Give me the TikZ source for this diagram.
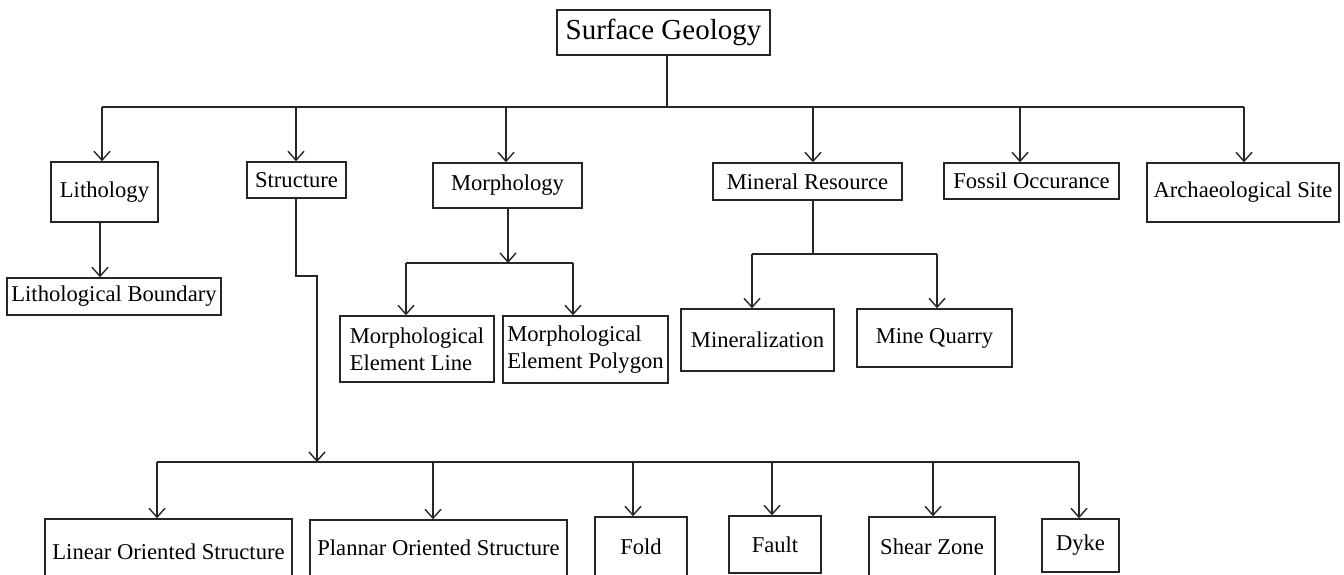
\documentclass[tikz,border=0pt]{standalone}
\usepackage{fontspec}
\setmainfont{Liberation Serif}
\usetikzlibrary{arrows.meta}
\begin{document}
\begin{tikzpicture}[x=1pt,y=-1pt,
  box/.style={draw=black!85, line width=1.4pt, inner sep=0pt,
    font=\fontsize{22.6}{27}\selectfont, align=center},
  link/.style={draw=black!85, line width=1.4pt},
  arr/.style={link, -{Straight Barb[length=9pt,width=16pt]}}]
\useasboundingbox (0,0) rectangle (1344,575);
\clip (0,0) rectangle (1344,575);

% root
\node[box, minimum width=213pt, minimum height=45pt, font=\fontsize{29}{34}\selectfont]
  (root) at (663.5,32.5) {Surface Geology};

% first level
\node[box, minimum width=107pt, minimum height=60pt] (litho)  at (104.5,192)   {Lithology};
\node[box, minimum width=99pt,  minimum height=36pt] (struct) at (296.5,180)   {Structure};
\node[box, minimum width=149pt, minimum height=45pt] (morph)  at (507.5,185.5) {Morphology};
\node[box, minimum width=189pt, minimum height=37pt] (miner)  at (807.5,181.5) {Mineral Resource};
\node[box, minimum width=175pt, minimum height=36pt] (fossil) at (1031.5,181)  {Fossil Occurance};
\node[box, minimum width=192pt, minimum height=59pt] (arch)   at (1243,192.5)  {Archaeological Site};

% second level
\node[box, minimum width=214pt, minimum height=37pt] (lbound) at (114,296.5) {Lithological Boundary};
\node[box, minimum width=154pt, minimum height=66pt, align=left] (mline) at (417,349)
  {Morphological\\Element Line};
\node[box, minimum width=165pt, minimum height=67pt, align=left] (mpoly) at (585.5,349.5)
  {Morphological\\Element Polygon};
\node[box, minimum width=153pt, minimum height=62pt] (mineral) at (757.5,340) {Mineralization};
\node[box, minimum width=155pt, minimum height=58pt] (quarry)  at (934.5,338) {Mine Quarry};

% structure classes
\node[box, minimum width=247pt, minimum height=66pt] (linear) at (168.5,552) {Linear Oriented Structure};
\node[box, minimum width=257pt, minimum height=56pt] (planar) at (438.5,548) {Plannar Oriented Structure};
\node[box, minimum width=92pt,  minimum height=60pt] (fold)   at (641,547)   {Fold};
\node[box, minimum width=92pt,  minimum height=57pt] (fault)  at (775,544.5) {Fault};
\node[box, minimum width=126pt, minimum height=60pt] (shear)  at (932,547)   {Shear Zone};
\node[box, minimum width=77pt,  minimum height=53pt] (dyke)   at (1080.5,545.5) {Dyke};

% main bus
\coordinate (m1) at (102,107);
\coordinate (m2) at (296,107);
\coordinate (m3) at (506,107);
\coordinate (m4) at (813,107);
\coordinate (m5) at (1020,107);
\coordinate (m6) at (1244,107);
\draw[link] (m1) -- (m6);
\draw[link] ([xshift=3.5pt]root.south) -- ([xshift=3.5pt]root.south |- m1);
\draw[arr] (m1) -- (m1 |- litho.north);
\draw[arr] (m2) -- (m2 |- struct.north);
\draw[arr] (m3) -- (m3 |- morph.north);
\draw[arr] (m4) -- (m4 |- miner.north);
\draw[arr] (m5) -- (m5 |- fossil.north);
\draw[arr] (m6) -- (m6 |- arch.north);

% lithology
\draw[arr] ([xshift=-4.5pt]litho.south) -- ([xshift=-4.5pt]litho.south |- lbound.north);

% morphology
\coordinate (mm) at (508,263);
\coordinate (ma) at (406,263);
\coordinate (mb) at (573,263);
\draw[arr] (morph.south -| mm) -- (mm);
\draw[link] (ma) -- (mb);
\draw[arr] (ma) -- (ma |- mline.north);
\draw[arr] (mb) -- (mb |- mpoly.north);

% mineral resource
\coordinate (rm) at (813,254);
\coordinate (ra) at (752,254);
\coordinate (rb) at (937,254);
\draw[link] (miner.south -| rm) -- (rm);
\draw[link] (ra) -- (rb);
\draw[arr] (ra) -- (ra |- mineral.north);
\draw[arr] (rb) -- (rb |- quarry.north);

% structure
\coordinate (sb) at (317,276);
\coordinate (s0) at (317,462);
\draw[arr] ([xshift=-0.5pt]struct.south) |- (sb) -- (s0);
\coordinate (b1) at (157,462);
\coordinate (b2) at (433,462);
\coordinate (b3) at (633,462);
\coordinate (b4) at (772,462);
\coordinate (b5) at (933,462);
\coordinate (b6) at (1079,462);
\draw[link] (b1) -- (b6);
\draw[arr] (b1) -- (b1 |- linear.north);
\draw[arr] (b2) -- (b2 |- planar.north);
\draw[arr] (b3) -- (b3 |- fold.north);
\draw[arr] (b4) -- (b4 |- fault.north);
\draw[arr] (b5) -- (b5 |- shear.north);
\draw[arr] (b6) -- (b6 |- dyke.north);
\end{tikzpicture}
\end{document}
